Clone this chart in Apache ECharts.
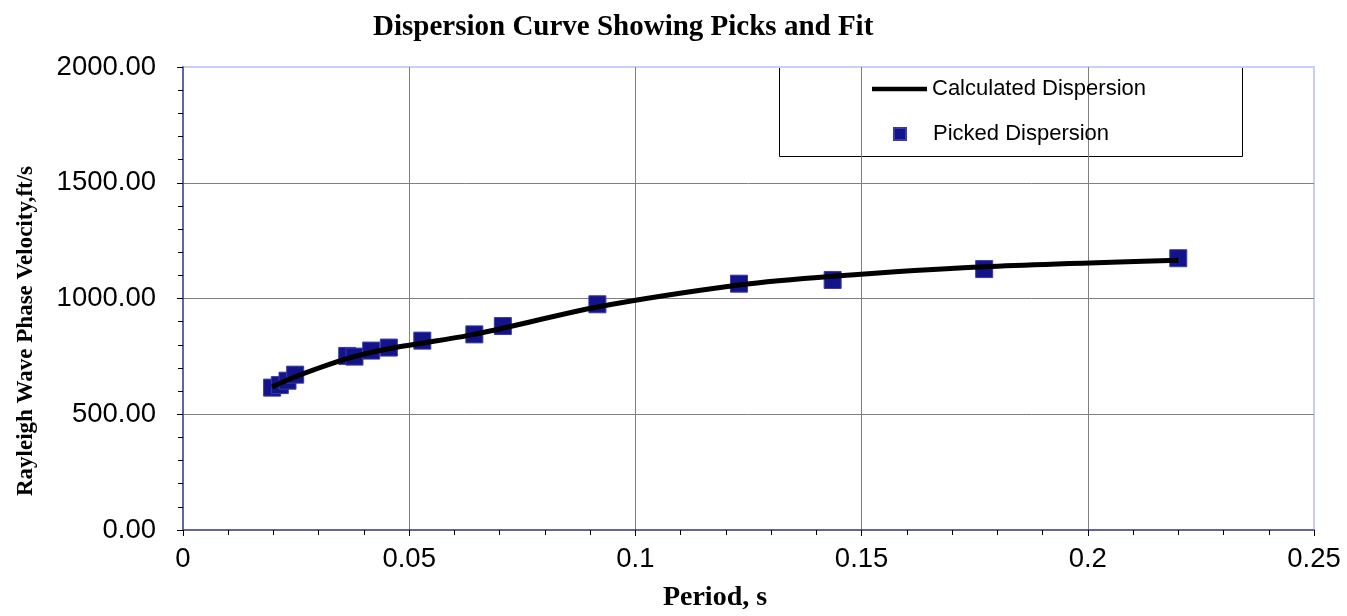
<!DOCTYPE html>
<html>
<head>
<meta charset="utf-8">
<script src="https://cdn.jsdelivr.net/npm/echarts@6/dist/echarts.min.js"></script>
<style>html,body{margin:0;padding:0;background:#fff;}#c{width:1347px;height:616px;}</style>
</head>
<body>
<div id="c"></div>
<script>
// Picked dispersion (period s, phase velocity ft/s)
var pickedPeriods = [0.0197, 0.0214, 0.0231, 0.0248, 0.0363, 0.0379, 0.0416, 0.0455, 0.0529, 0.0644, 0.0707, 0.0916, 0.1229, 0.1436, 0.1771, 0.2200];
var pickedVelocities = [615, 626, 645, 671, 752, 749, 775, 788, 818, 845, 881, 975, 1064, 1080, 1127, 1174];
// Calculated dispersion curve
var calcPeriods = [0.0197, 0.0248, 0.0363, 0.0455, 0.0644, 0.0916, 0.1229, 0.1436, 0.1771, 0.2200];
var calcVelocities = [618, 662, 740, 783, 845, 963, 1058, 1096, 1137, 1165];
var xTicks = [0, 0.05, 0.1, 0.15, 0.2, 0.25];
var yTicks = [0, 500, 1000, 1500, 2000];

var titleText = 'Dispersion Curve Showing Picks and Fit';
var xName = 'Period, s';
var yName = 'Rayleigh Wave Phase Velocity,ft/s';

function pairs(xs, ys) { return xs.map(function (x, i) { return [x, ys[i]]; }); }

var chart = echarts.init(document.getElementById('c'));
var sans = 'Liberation Sans, Arial, sans-serif';
var serif = 'Liberation Serif, Times New Roman, serif';

chart.setOption({
  animation: false,
  backgroundColor: '#ffffff',
  title: {
    text: titleText,
    left: 368, top: 8,
    textStyle: { fontFamily: serif, fontWeight: 'bold', fontSize: 29, color: '#000' }
  },
  grid: { left: 183, right: 33, top: 67, bottom: 86, show: true, borderColor: '#ccccff', borderWidth: 2, backgroundColor: 'transparent' },
  xAxis: {
    type: 'value', min: xTicks[0], max: xTicks[xTicks.length - 1], interval: 0.05,
    axisLine: { show: true, lineStyle: { color: '#404088', width: 1.5 } },
    axisTick: { show: true, inside: false, length: 6, lineStyle: { color: '#000' } },
    minorTick: { show: true, splitNumber: 5, length: 5, lineStyle: { color: '#000' } },
    axisLabel: { fontFamily: sans, fontSize: 27.5, color: '#000', margin: 15,
      formatter: function (v) { return String(+v.toFixed(2)); } },
    splitLine: { show: true, showMinLine: false, showMaxLine: false, lineStyle: { color: '#808080', width: 1 } }
  },
  yAxis: {
    type: 'value', min: yTicks[0], max: yTicks[yTicks.length - 1], interval: 500,
    axisLine: { show: true, lineStyle: { color: '#404088', width: 1.5 } },
    axisTick: { show: true, inside: false, length: 6, lineStyle: { color: '#000' } },
    minorTick: { show: true, splitNumber: 5, length: 5, lineStyle: { color: '#000' } },
    axisLabel: { fontFamily: sans, fontSize: 27.5, color: '#000', margin: 27,
      formatter: function (v) { return v.toFixed(2); } },
    splitLine: { show: true, showMinLine: false, showMaxLine: false, lineStyle: { color: '#808080', width: 1 } }
  },
  legend: [
    { data: [{ name: 'Calculated Dispersion', icon: 'rect' }], left: 872, top: 78, padding: 0, itemWidth: 55, itemHeight: 4.5, itemGap: 0,
      textStyle: { fontFamily: sans, fontSize: 22, color: '#000' } },
    { data: ['Picked Dispersion'], left: 893, top: 123, padding: 0, itemWidth: 12, itemHeight: 12, itemGap: 0,
      textStyle: { fontFamily: sans, fontSize: 22, color: '#000', padding: [0, 0, 0, 22] } }
  ],
  graphic: [
    { type: 'rect', z: -1, zlevel: 0, shape: { x: 779.5, y: 66.5, width: 463, height: 90 },
      style: { fill: '#ffffff', stroke: '#000', lineWidth: 1 } },
    { type: 'text', x: 715, y: 598, style: { text: xName, font: 'bold 28px ' + serif, fill: '#000', align: 'center', verticalAlign: 'middle' } },
    { type: 'text', x: 26, y: 331, rotation: Math.PI / 2, style: { text: yName, font: 'bold 23px ' + serif, fill: '#000', align: 'center', verticalAlign: 'middle' } }
  ],
  series: [
    { name: 'Picked Dispersion', type: 'scatter', z: 2, symbol: 'rect', symbolSize: 17,
      data: pairs(pickedPeriods, pickedVelocities),
      itemStyle: { color: '#14148a', borderColor: '#3a3aa8', borderWidth: 1, opacity: 1 } },
    { name: 'Calculated Dispersion', type: 'line', z: 3, showSymbol: false, symbol: 'none', smooth: 0.25,
      data: pairs(calcPeriods, calcVelocities),
      lineStyle: { color: '#000', width: 5 }, itemStyle: { color: '#000' } }
  ]
});
</script>
</body>
</html>
